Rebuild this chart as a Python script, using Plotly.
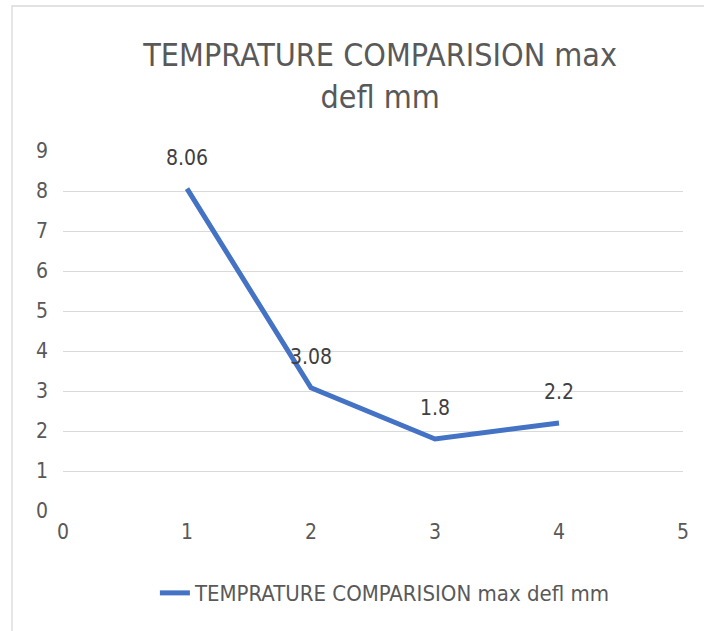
import plotly.graph_objects as go

x_vals = [1, 2, 3, 4]
y_vals = [8.06, 3.08, 1.8, 2.2]
labels = ["8.06", "3.08", "1.8", "2.2"]
series_name = "TEMPRATURE COMPARISION max defl mm"
title_text = "TEMPRATURE COMPARISION max<br>defl mm"
x_ticks = [0, 1, 2, 3, 4, 5]
y_ticks = [0, 1, 2, 3, 4, 5, 6, 7, 8, 9]

FONT = "DejaVu Sans Condensed, Roboto, Liberation Sans, Arial"
TXT = "#595959"
LINE = "#4472C4"

fig = go.Figure()
fig.add_trace(go.Scatter(
    x=x_vals, y=y_vals, mode="lines", name=series_name,
    line=dict(color=LINE, width=5),
    cliponaxis=False,
))

annotations = [
    dict(x=xv, y=yv, text=t, showarrow=False, xref="x", yref="y",
         yshift=31, yanchor="middle",
         font=dict(family=FONT, size=21, color="#404040"))
    for xv, yv, t in zip(x_vals, y_vals, labels)
]

fig.update_layout(
    width=704, height=631,
    margin=dict(l=63, r=21, t=151, b=120),
    paper_bgcolor="white", plot_bgcolor="white",
    title=dict(text=title_text, x=0.54, xanchor="center", yref="container",
               y=0.895, yanchor="top",
               font=dict(family=FONT, size=32, color=TXT)),
    xaxis=dict(range=[0, 5], tickvals=x_ticks, showgrid=False, zeroline=False,
               showline=False, ticks="", ticklabelstandoff=6,
               tickfont=dict(family=FONT, size=21, color=TXT)),
    yaxis=dict(range=[0, 9], tickvals=y_ticks, showgrid=True, gridcolor="#D9D9D9",
               gridwidth=1.3, zeroline=False, showline=False, ticks="",
               ticklabelstandoff=14,
               tickfont=dict(family=FONT, size=21, color=TXT)),
    showlegend=True,
    legend=dict(orientation="h", x=0.52, xanchor="center", y=-0.228, yanchor="middle",
                font=dict(family=FONT, size=22, color=TXT)),
    annotations=annotations,
    shapes=[dict(type="rect", xref="paper", yref="paper",
                 x0=-0.0823, x1=1.2, y0=-0.4, y1=1.4028,
                 line=dict(color="#D9D9D9", width=1.3), fillcolor="rgba(0,0,0,0)")],
)

fig.write_html("out.html", config={"displayModeBar": False},
               post_script="document.body.style.margin='0';")
